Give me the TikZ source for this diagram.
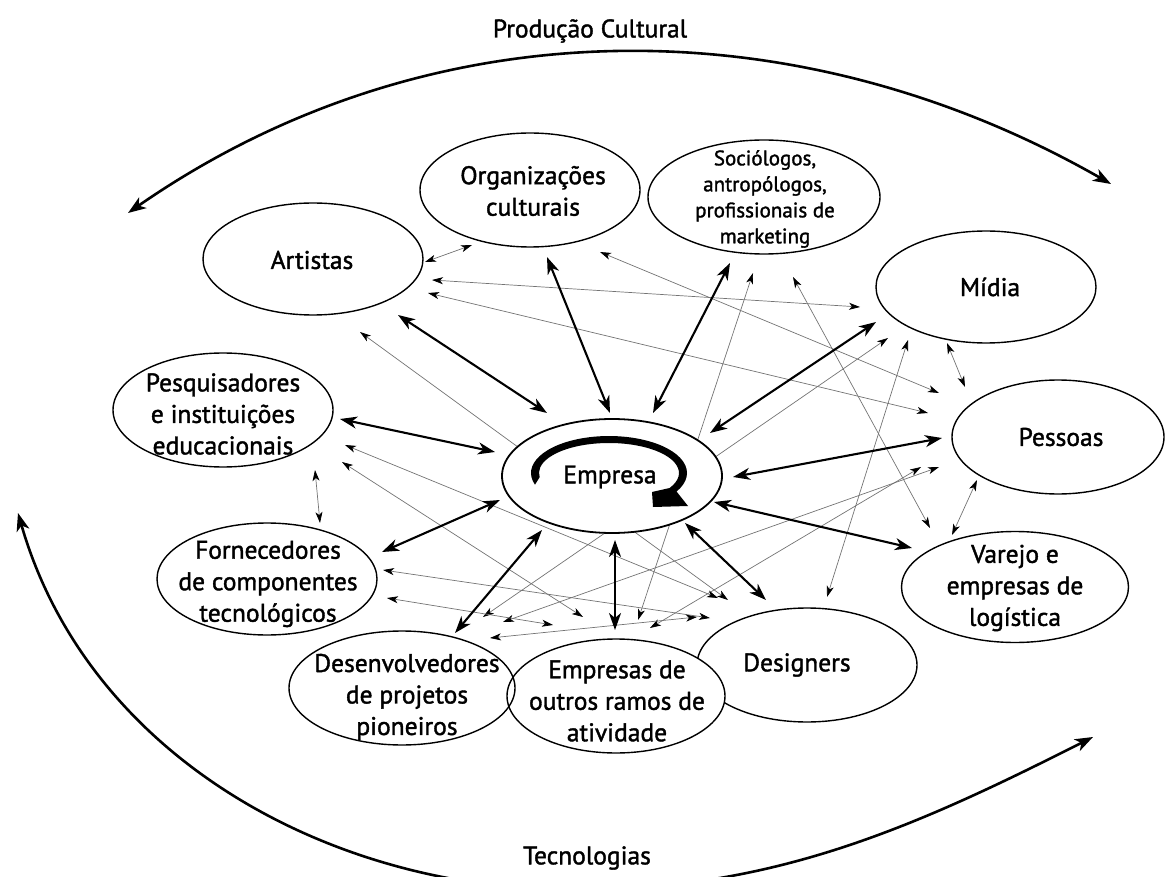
\documentclass[tikz,border=0pt]{standalone}
\usepackage{fontspec}
\setmainfont{PT Sans}[FakeBold=1.5]
\usetikzlibrary{arrows.meta,shapes.geometric}
\begin{document}
\begin{tikzpicture}[x=1pt,y=-1pt,
  blob/.style={draw, ellipse, line width=1.4pt, fill=white, inner sep=0pt,
               minimum width=220pt, minimum height=114pt},
  lbl/.style={font=\fontsize{25.5}{31.5}\selectfont, align=center, inner sep=0pt},
  small/.style={font=\fontsize{21}{26}\selectfont, align=center, inner sep=0pt},
  link/.style={line width=2.1pt,
    {Stealth[length=17pt,width=12pt,inset=5pt]}-{Stealth[length=17pt,width=12pt,inset=5pt]}},
  weak/.style={draw=black!55, line width=0.7pt,
    {Stealth[length=11pt,width=7pt,inset=3pt,color=black]}-{Stealth[length=11pt,width=7pt,inset=3pt,color=black]}},
  sweep/.style={line width=2.6pt,
    {Stealth[length=18pt,width=13pt,inset=5pt]}-{Stealth[length=18pt,width=13pt,inset=5pt]}}
]
\useasboundingbox (0,0) rectangle (1165,877);
\clip (0,0) rectangle (1165,877);

% outer cycles
\coordinate (pc-a) at (128,213);
\coordinate (pc-b) at (1111,184);
\draw[sweep] (pc-a) .. controls (429,4) and (796,4) .. (pc-b);
\coordinate (tc-a) at (18,513);
\coordinate (tc-m) at (575,890);
\coordinate (tc-b) at (1093,737);
\draw[sweep] (tc-a) .. controls (87,753) and (325,890) .. (tc-m)
             .. controls (775,890) and (915,827) .. (tc-b);

% actors around the company
\node[blob] (org) at (530,190) {};
\node[blob, minimum width=232pt] (soc) at (764,197) {};
\node[blob, minimum height=112pt] (art) at (313,259) {};
\node[blob, minimum height=112pt] (mid) at (986,287) {};
\node[blob, minimum width=212pt] (pes) at (1058,437) {};
\node[blob, minimum width=227pt, minimum height=111pt] (var) at (1015,587) {};
\node[blob] (pq) at (223,410) {};
\node[blob, minimum height=112pt] (forn) at (267,579) {};
\node[blob] (des) at (807,665) {};
\node[blob, minimum width=218pt] (eor) at (616,696) {};
\node[blob, minimum width=226pt, fill=none] (desv) at (402,688) {};

% weak ties between actors
\draw[weak] ([shift={(112,3)}]art.center) -- ([shift={(-58,55)}]org.center);
\draw[weak] ([shift={(119,21)}]art.center) -- ([shift={(-126,20)}]mid.center);
\draw[weak] ([shift={(115,34)}]art.center) -- ([shift={(-130,-24)}]pes.center);
\draw[weak] ([shift={(47,73)}]art.center) -- ([shift={(-79,-65)}]des.center);
\draw[weak] ([shift={(70,62)}]org.center) -- ([shift={(-119,-44)}]pes.center);
\draw[weak] ([shift={(-11,76)}]soc.center) -- ([shift={(22,-76)}]eor.center);
\draw[weak] ([shift={(29,80)}]soc.center) -- ([shift={(-85,-59)}]var.center);
\draw[weak] ([shift={(-98,51)}]mid.center) -- ([shift={(81,-71)}]desv.center);
\draw[weak] ([shift={(-78,53)}]mid.center) -- ([shift={(20,-68)}]des.center);
\draw[weak] ([shift={(-39,56)}]mid.center) -- ([shift={(-93,-50)}]pes.center);
\draw[weak] ([shift={(-137,30)}]pes.center) -- ([shift={(34,-68)}]eor.center);
\draw[weak] ([shift={(-119,30)}]pes.center) -- ([shift={(101,-66)}]desv.center);
\draw[weak] ([shift={(-81,43)}]pes.center) -- ([shift={(-63,-52)}]var.center);
\draw[weak] ([shift={(122,35)}]pq.center) -- ([shift={(-89,-67)}]des.center);
\draw[weak] ([shift={(119,52)}]pq.center) -- ([shift={(-33,-79)}]eor.center);
\draw[weak] ([shift={(92,60)}]pq.center) -- ([shift={(53,-56)}]forn.center);
\draw[weak] ([shift={(116,-9)}]forn.center) -- ([shift={(-97,-47)}]des.center);
\draw[weak] ([shift={(120,19)}]forn.center) -- ([shift={(-63,-71)}]eor.center);
\draw[weak] ([shift={(88,-50)}]desv.center) -- ([shift={(-110,-48)}]des.center);

% the company at the centre
\node[blob, line width=1.8pt] (emp) at (612,476) {};

% strong ties with the company
\draw[link] ([shift={(85,56)}]art.center) -- ([shift={(-65,-63)}]emp.center);
\draw[link] ([shift={(17,67)}]org.center) -- ([shift={(-2,-63)}]emp.center);
\draw[link] ([shift={(-34,66)}]soc.center) -- ([shift={(41,-63)}]emp.center);
\draw[link] ([shift={(-110,35)}]mid.center) -- ([shift={(98,-43)}]emp.center);
\draw[link] ([shift={(-116,1)}]pes.center) -- ([shift={(121,1)}]emp.center);
\draw[link] ([shift={(-103,-39)}]var.center) -- ([shift={(102,26)}]emp.center);
\draw[link] ([shift={(-41,-65)}]des.center) -- ([shift={(73,47)}]emp.center);
\draw[link] ([shift={(3,64)}]emp.center) -- ([shift={(-1,-66)}]eor.center);
\draw[link] ([shift={(-70,54)}]emp.center) -- ([shift={(53,-55)}]desv.center);
\draw[link] ([shift={(-112,24)}]emp.center) -- ([shift={(115,-27)}]forn.center);
\draw[link] ([shift={(-117,-24)}]emp.center) -- ([shift={(117,9)}]pq.center);

% circular arrow inside the company
\fill ([shift={(-77,8.7)}]emp.center)
  arc[start angle=161.6, end angle=390, x radius=78, y radius=37]
  -- ([shift={(76,30)}]emp.center)
  -- ([shift={(41,31)}]emp.center)
  -- ([shift={(40,16)}]emp.center)
  -- ([shift={(57.6,12)}]emp.center)
  arc[start angle=390, end angle=172, x radius=70, y radius=30]
  -- cycle;

% labels
\node[lbl] (t-prod) at (590,31) {Produção Cultural};
\node[lbl] (t-tec) at (587,858) {Tecnologias};
\node[lbl] (t-org) at (533,191) {Organizações\\culturais};
\node[small] (t-soc) at (765,199) {Sociólogos,\\antropólogos,\\profissionais de\\marketing};
\node[lbl] (t-art) at (312,260) {Artistas};
\node[lbl] (t-mid) at (990,287) {Mídia};
\node[lbl] (t-pes) at (1061,437) {Pessoas};
\node[lbl] (t-var) at (1015,588) {Varejo e\\empresas de\\logística};
\node[lbl] (t-pq) at (223,414) {Pesquisadores\\e instituições\\educacionais};
\node[lbl] (t-forn) at (268,584) {Fornecedores\\de componentes\\tecnológicos};
\node[lbl] (t-desv) at (407,697) {Desenvolvedores\\de projetos\\pioneiros};
\node[lbl] (t-eor) at (617,701) {Empresas de\\outros ramos de\\atividade};
\node[lbl] (t-des) at (797,665) {Designers};
\node[lbl] (t-emp) at (610,477) {Empresa};
\end{tikzpicture}
\end{document}
